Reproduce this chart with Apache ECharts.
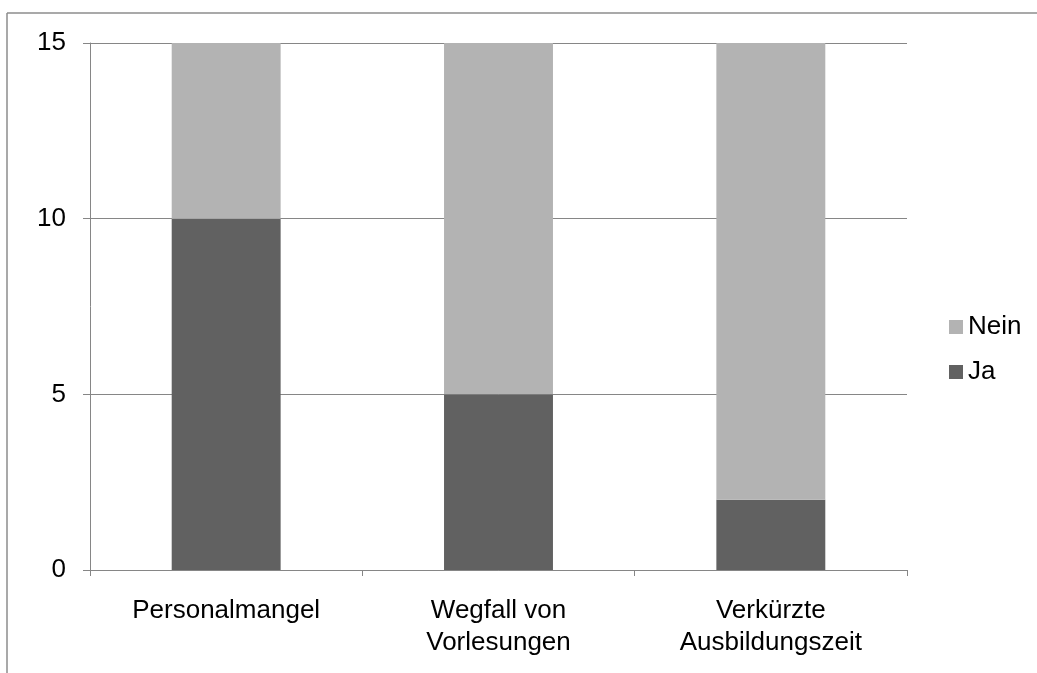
<!DOCTYPE html>
<html>
<head>
<meta charset="utf-8">
<script src="https://cdn.jsdelivr.net/npm/echarts@6/dist/echarts.min.js"></script>
<style>
  html, body { margin: 0; padding: 0; background: #ffffff; }
  #chart { width: 1037px; height: 673px; }
</style>
</head>
<body>
<div id="chart"></div>
<script>
// Categories and stacked counts
const categories = ['Personalmangel', 'Wegfall von\nVorlesungen', 'Verkürzte\nAusbildungszeit'];
const jaValues = [10, 5, 2];
const neinValues = [5, 10, 13];
const yTicks = { min: 0, max: 15, interval: 5 };

const FONT = '"Liberation Sans", Arial, sans-serif';
const AXIS_GRAY = '#868686';

const chart = echarts.init(document.getElementById('chart'), null, { renderer: 'canvas' });

chart.setOption({
  backgroundColor: '#ffffff',
  animation: false,
  textStyle: { fontFamily: FONT, color: '#000000' },
  graphic: [
    // chart frame (top and left edges visible)
    { type: 'line', shape: { x1: 7, y1: 13, x2: 1037, y2: 13 }, style: { stroke: '#8c8c8c', lineWidth: 1.5 }, silent: true },
    { type: 'line', shape: { x1: 7, y1: 13, x2: 7, y2: 673 }, style: { stroke: '#8c8c8c', lineWidth: 1.5 }, silent: true }
  ],
  grid: { left: 90, right: 130, top: 43, bottom: 103, containLabel: false },
  legend: {
    orient: 'vertical',
    left: 944,
    top: 308,
    itemWidth: 14,
    itemHeight: 14,
    itemGap: 17,
    icon: 'rect',
    data: ['Nein', 'Ja'],
    textStyle: { fontFamily: FONT, fontSize: 26, color: '#000000', lineHeight: 28 }
  },
  xAxis: {
    type: 'category',
    data: categories,
    axisLine: { lineStyle: { color: AXIS_GRAY, width: 1 } },
    axisTick: { show: true, length: 6, lineStyle: { color: AXIS_GRAY } },
    axisLabel: { fontFamily: FONT, fontSize: 26, color: '#000000', margin: 25, lineHeight: 32, interval: 0 },
    splitLine: { show: false }
  },
  yAxis: {
    type: 'value',
    min: yTicks.min,
    max: yTicks.max,
    interval: yTicks.interval,
    axisLine: { show: true, lineStyle: { color: AXIS_GRAY, width: 1 } },
    axisTick: { show: true, length: 7, lineStyle: { color: AXIS_GRAY } },
    axisLabel: { fontFamily: FONT, fontSize: 26, color: '#000000', margin: 24 },
    splitLine: { show: true, lineStyle: { color: AXIS_GRAY, width: 1 } }
  },
  series: [
    {
      name: 'Ja',
      type: 'bar',
      stack: 'total',
      data: jaValues,
      barCategoryGap: '60%',
      itemStyle: { color: '#616161' }
    },
    {
      name: 'Nein',
      type: 'bar',
      stack: 'total',
      data: neinValues,
      barCategoryGap: '60%',
      itemStyle: { color: '#b3b3b3' }
    }
  ]
});
</script>
</body>
</html>
